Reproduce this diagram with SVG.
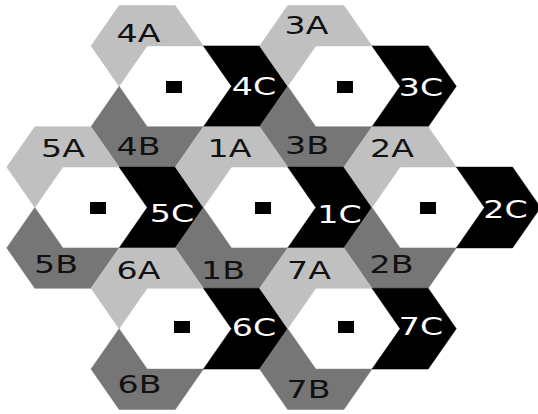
<svg xmlns="http://www.w3.org/2000/svg" xmlns:xlink="http://www.w3.org/1999/xlink" width="538" height="414" viewBox="0 0 538 414">
<style>
.w{fill:#ffffff;stroke:#ffffff;stroke-width:0.5}
.a{fill:#c0c0c0;stroke:#c0c0c0;stroke-width:0.5}
.b{fill:#767676;stroke:#767676;stroke-width:0.5}
.c{fill:#000000;stroke:#000000;stroke-width:0.5}
.sq{fill:#000000}
.t{font-family:"DejaVu Sans","Verdana",sans-serif;font-size:25px;text-anchor:middle;fill:#111111}
.tw{font-family:"DejaVu Sans","Verdana",sans-serif;font-size:25px;text-anchor:middle;fill:#ffffff}
</style>
<defs>
<polygon id="hex" points="-56.2,0 -28.1,-40.4 28.1,-40.4 56.2,0 28.1,40.4 -28.1,40.4"/>
<polygon id="secA" points="-84.3,-40.4 -56.2,-80.8 0,-80.8 28.1,-40.4 -28.1,-40.4 -56.2,0"/>
<polygon id="secC" points="84.3,-40.4 112.4,0 84.3,40.4 28.1,40.4 56.2,0 28.1,-40.4"/>
<polygon id="secB" points="0,80.8 -56.2,80.8 -84.3,40.4 -56.2,0 -28.1,40.4 28.1,40.4"/>
</defs>
<rect width="538" height="414" fill="#ffffff"/>
<g id="cell4">
<use href="#hex" class="w" x="175.3" y="86.3"/>
<use href="#secA" class="a" x="175.3" y="86.3"/>
<use href="#secB" class="b" x="175.3" y="86.3"/>
<use href="#secC" class="c" x="175.3" y="86.3"/>
<rect class="sq" x="166" y="81" width="16" height="12"/>
</g>
<g id="cell3">
<use href="#hex" class="w" x="343.9" y="86.3"/>
<use href="#secA" class="a" x="343.9" y="86.3"/>
<use href="#secB" class="b" x="343.9" y="86.3"/>
<use href="#secC" class="c" x="343.9" y="86.3"/>
<rect class="sq" x="337" y="81" width="16" height="12"/>
</g>
<g id="cell5">
<use href="#hex" class="w" x="91" y="207.5"/>
<use href="#secA" class="a" x="91" y="207.5"/>
<use href="#secB" class="b" x="91" y="207.5"/>
<use href="#secC" class="c" x="91" y="207.5"/>
<rect class="sq" x="90" y="202" width="16" height="12"/>
</g>
<g id="cell1">
<use href="#hex" class="w" x="259.6" y="207.5"/>
<use href="#secA" class="a" x="259.6" y="207.5"/>
<use href="#secB" class="b" x="259.6" y="207.5"/>
<use href="#secC" class="c" x="259.6" y="207.5"/>
<rect class="sq" x="255" y="202" width="16" height="12"/>
</g>
<g id="cell2">
<use href="#hex" class="w" x="428.2" y="207.5"/>
<use href="#secA" class="a" x="428.2" y="207.5"/>
<use href="#secB" class="b" x="428.2" y="207.5"/>
<use href="#secC" class="c" x="428.2" y="207.5"/>
<rect class="sq" x="420" y="202" width="16" height="12"/>
</g>
<g id="cell6">
<use href="#hex" class="w" x="175.3" y="328.7"/>
<use href="#secA" class="a" x="175.3" y="328.7"/>
<use href="#secB" class="b" x="175.3" y="328.7"/>
<use href="#secC" class="c" x="175.3" y="328.7"/>
<rect class="sq" x="174" y="321" width="16" height="12"/>
</g>
<g id="cell7">
<use href="#hex" class="w" x="343.9" y="328.7"/>
<use href="#secA" class="a" x="343.9" y="328.7"/>
<use href="#secB" class="b" x="343.9" y="328.7"/>
<use href="#secC" class="c" x="343.9" y="328.7"/>
<rect class="sq" x="338" y="321" width="16" height="12"/>
</g>
<g id="labels">
<text class="t" transform="translate(138.5,42) scale(1.33,1)">4A</text>
<text class="t" transform="translate(306.5,34) scale(1.33,1)">3A</text>
<text class="tw" transform="translate(254,95) scale(1.33,1)">4C</text>
<text class="tw" transform="translate(421,96) scale(1.33,1)">3C</text>
<text class="t" transform="translate(63,157) scale(1.33,1)">5A</text>
<text class="t" transform="translate(138.5,155) scale(1.33,1)">4B</text>
<text class="t" transform="translate(229.5,157) scale(1.33,1)">1A</text>
<text class="t" transform="translate(307,154) scale(1.33,1)">3B</text>
<text class="t" transform="translate(392,157) scale(1.33,1)">2A</text>
<text class="tw" transform="translate(172,222) scale(1.33,1)">5C</text>
<text class="tw" transform="translate(339.5,223) scale(1.33,1)">1C</text>
<text class="tw" transform="translate(505.5,218) scale(1.33,1)">2C</text>
<text class="t" transform="translate(56,273) scale(1.33,1)">5B</text>
<text class="t" transform="translate(138.5,279) scale(1.33,1)">6A</text>
<text class="t" transform="translate(223,279) scale(1.33,1)">1B</text>
<text class="t" transform="translate(309,279) scale(1.33,1)">7A</text>
<text class="t" transform="translate(391.5,273) scale(1.33,1)">2B</text>
<text class="tw" transform="translate(254,336) scale(1.33,1)">6C</text>
<text class="tw" transform="translate(421,335) scale(1.33,1)">7C</text>
<text class="t" transform="translate(139.5,393) scale(1.33,1)">6B</text>
<text class="t" transform="translate(308.5,398) scale(1.33,1)">7B</text>
</g>
</svg>
